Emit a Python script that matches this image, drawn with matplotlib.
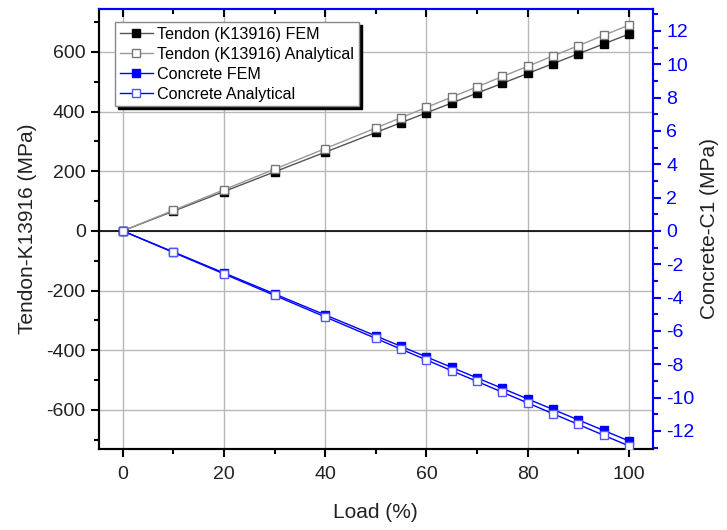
import numpy as np
import matplotlib.pyplot as plt
from matplotlib.ticker import MultipleLocator

plt.rcParams['font.family'] = ['Liberation Sans', 'DejaVu Sans']
plt.rcParams['axes.unicode_minus'] = False

# Load steps (%)
load = [0, 10, 20, 30, 40, 50, 55, 60, 65, 70, 75, 80, 85, 90, 95, 100]

# Tendon K13916 stress (MPa), left axis
tendon_fem = [0, 66, 132, 198, 264, 330, 363, 396, 429, 462, 495, 528, 561, 594, 627, 660]
tendon_ana = [0, 69, 138, 207, 276, 345, 380, 414, 449, 483, 518, 552, 587, 621, 656, 690]

# Concrete C1 stress (MPa), right axis
concrete_fem = [0, -1.26, -2.52, -3.78, -5.04, -6.30, -6.93, -7.56, -8.19, -8.82, -9.45,
                -10.08, -10.71, -11.34, -11.97, -12.60]
concrete_ana = [0, -1.29, -2.58, -3.87, -5.16, -6.45, -7.10, -7.74, -8.39, -9.03, -9.68,
                -10.32, -10.97, -11.61, -12.26, -12.90]

blue = '#0000ff'

fig = plt.figure(figsize=(7.27, 5.30), dpi=100)
ax = fig.add_axes([0.136, 0.153, 0.762, 0.830])
ax2 = ax.twinx()

ax.grid(True, color='#b8b8b8', linewidth=1.0)
ax.axhline(0, color='black', linewidth=1.2, zorder=2)

h1, = ax.plot(load, tendon_fem, '-s', color='#555555', linewidth=1.0,
              markersize=6, markerfacecolor='black', markeredgecolor='black',
              label='Tendon (K13916) FEM', zorder=3)
h2, = ax.plot(load, tendon_ana, '-s', color='#999999', linewidth=1.0,
              markersize=6, markerfacecolor='white', markeredgecolor='#777777',
              label='Tendon (K13916) Analytical', zorder=3)
h3, = ax2.plot(load, concrete_fem, '-s', color=blue, linewidth=1.0,
               markersize=6, markerfacecolor=blue, markeredgecolor=blue,
               label='Concrete FEM', zorder=3)
h4, = ax2.plot(load, concrete_ana, '-s', color=blue, linewidth=1.0,
               markersize=6, markerfacecolor='white', markeredgecolor='#5555ff',
               label='Concrete Analytical', zorder=3)

ax.set_xlim(-4.7, 104.7)
ax.set_ylim(-731, 744)
ax2.set_ylim(-731 / 55.9, 744 / 55.9)

ax.xaxis.set_major_locator(MultipleLocator(20))
ax.xaxis.set_minor_locator(MultipleLocator(10))
ax.yaxis.set_major_locator(MultipleLocator(200))
ax.yaxis.set_minor_locator(MultipleLocator(100))
ax2.yaxis.set_major_locator(MultipleLocator(2))
ax2.yaxis.set_minor_locator(MultipleLocator(1))

ax.tick_params(axis='both', which='major', direction='out', length=6, width=1.5,
               labelsize=14, colors='black', labelcolor='#222222')
ax.tick_params(axis='x', which='major', pad=6)
ax.tick_params(axis='both', which='minor', direction='out', length=3.5, width=1.5)
ax.tick_params(axis='x', which='both', top=True)
ax2.tick_params(axis='y', which='major', direction='out', length=6, width=1.5,
                labelsize=14, colors=blue)
ax2.tick_params(axis='y', which='minor', direction='out', length=3.5, width=1.5, colors=blue)

# top ticks point inward and are blue like the top spine
for t in ax.xaxis.get_major_ticks() + ax.xaxis.get_minor_ticks():
    t.tick2line.set_color(blue)
    t.tick2line.set_marker(3)

for a in (ax, ax2):
    a.spines['left'].set_color('black')
    a.spines['bottom'].set_color('black')
    a.spines['top'].set_color(blue)
    a.spines['right'].set_color(blue)
    for s in a.spines.values():
        s.set_linewidth(1.5)

ax.set_xlabel('Load (%)', fontsize=15, color='#222222', labelpad=15)
ax.set_ylabel('Tendon-K13916 (MPa)', fontsize=15, color='#222222', labelpad=7)
ax2.set_ylabel('Concrete-C1 (MPa)', fontsize=15, color='#222222', labelpad=4)

leg = ax2.legend(handles=[h1, h2, h3, h4], loc='upper left',
                 bbox_to_anchor=(0.03, 0.97), borderaxespad=0, fontsize=11.6,
                 fancybox=False, framealpha=1, edgecolor='#888888',
                 shadow={'color': 'black', 'alpha': 1},
                 handlelength=2.0, handletextpad=0.3, labelspacing=0.3,
                 borderpad=0.3)
leg.get_frame().set_linewidth(1.0)

fig.savefig('out.png', dpi=100)
